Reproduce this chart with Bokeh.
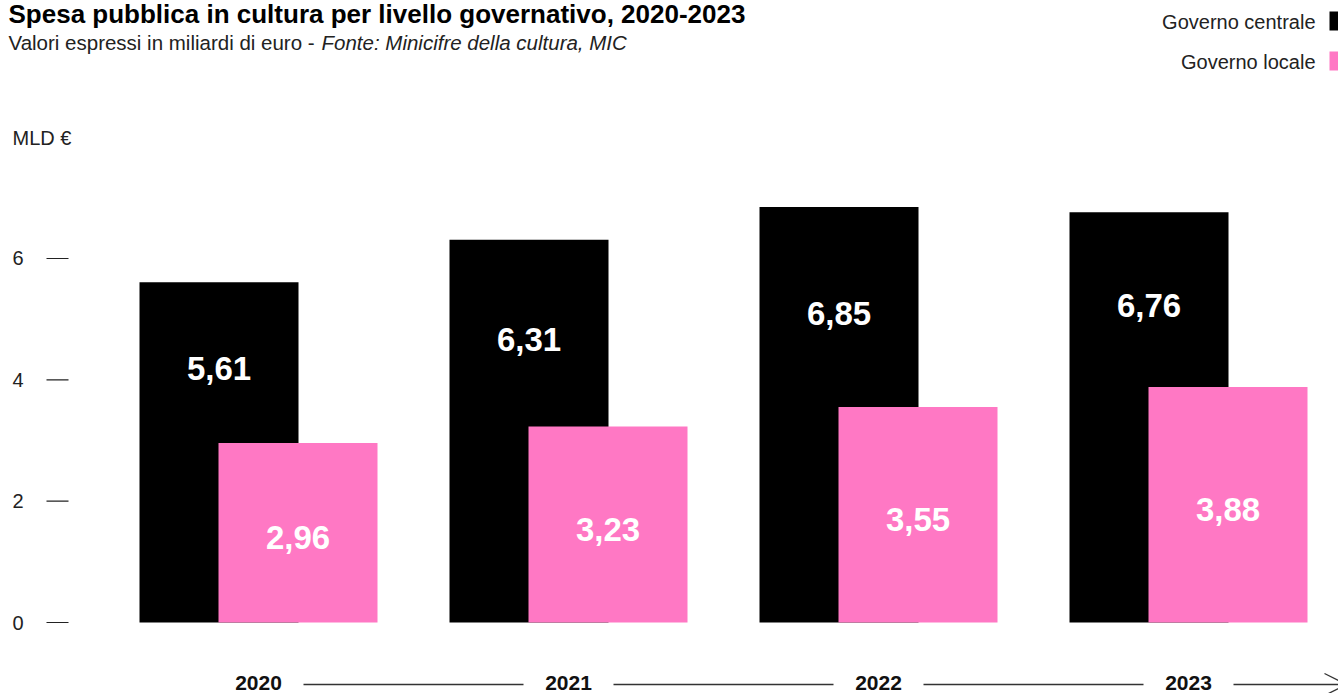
from bokeh.plotting import figure
from bokeh.models import ColumnDataSource, BoxAnnotation, Arrow, OpenHead, Range1d
from bokeh.core.properties import value
from bokeh.embed import file_html
from bokeh.resources import INLINE

# ---- data ----
years = ["2020", "2021", "2022", "2023"]
centrale = [5.61, 6.31, 6.85, 6.76]
locale = [2.96, 3.23, 3.55, 3.88]
centrale_labels = ["5,61", "6,31", "6,85", "6,76"]
locale_labels = ["2,96", "3,23", "3,55", "3,88"]
y_ticks = [0, 2, 4, 6]
y_tick_labels = ["0", "2", "4", "6"]

BLACK = "#000000"
PINK = "#FF78C4"
FONT = "Liberation Sans"

W, H = 1338, 693
# layout helpers (pixel -> data)
PX_PER_UNIT = 60.67
ZERO_PY = 622
GROUP0_PX = 258
GROUP_STEP = 310.0


def px2x(px):
    return (px - GROUP0_PX) / GROUP_STEP


def py2y(py):
    return (ZERO_PY - py) / PX_PER_UNIT


idx = list(range(len(years)))
off = 39.5 / GROUP_STEP
bw = 159 / GROUP_STEP

src = ColumnDataSource(dict(
    xc=[i - off for i in idx],
    xl=[i + off for i in idx],
    xi=idx,
    centrale=centrale,
    locale=locale,
    c_lab=centrale_labels,
    l_lab=locale_labels,
    c_y=[(c + l) / 2 - 0.1 for c, l in zip(centrale, locale)],
    l_y=[l / 2 - 0.075 for l in locale],
    years=years,
    year_y=[py2y(682)] * len(years),
))

p = figure(width=W, height=H, output_backend="svg", toolbar_location=None,
           x_range=Range1d(px2x(0), px2x(W)),
           y_range=Range1d(py2y(H), py2y(0)),
           x_axis_location=None, y_axis_location=None,
           min_border_left=0, min_border_right=0, min_border_top=0, min_border_bottom=0,
           background_fill_color="white", border_fill_color="white")
p.outline_line_color = None
p.grid.visible = False

# y axis: ticks and labels from the tick arrays
p.segment(x0=[px2x(46)] * len(y_ticks), x1=[px2x(68)] * len(y_ticks), y0=y_ticks, y1=y_ticks,
          line_color="#222222", line_width=1.2)
p.text(x=[px2x(23)] * len(y_ticks), y=y_ticks, text=y_tick_labels, text_font=value(FONT),
       text_font_size="20px", text_color="#222222", text_align="right", text_baseline="middle")

# bars
p.vbar(x="xc", top="centrale", bottom=0, width=bw, source=src, fill_color=BLACK, line_color=None)
p.vbar(x="xl", top="locale", bottom=0, width=bw, source=src, fill_color=PINK, line_color=None)

# bar value labels
p.text(x="xc", y="c_y", text="c_lab", source=src, text_color="white", text_font=value(FONT),
       text_font_style="bold", text_font_size="33px", text_align="center", text_baseline="middle")
p.text(x="xl", y="l_y", text="l_lab", source=src, text_color="white", text_font=value(FONT),
       text_font_style="bold", text_font_size="33px", text_align="center", text_baseline="middle")

# x axis (year labels with connecting line)
p.text(x="xi", y="year_y", text="years", source=src, text_color="#111111", text_font=value(FONT),
       text_font_style="bold", text_font_size="21px", text_align="center", text_baseline="middle")
gap = 45 / GROUP_STEP
p.segment(x0=[i + gap for i in idx[:-1]], y0=[py2y(684)] * (len(idx) - 1),
          x1=[i + 1 - gap for i in idx[:-1]], y1=[py2y(684)] * (len(idx) - 1),
          line_color="#333333", line_width=1.3)
p.add_layout(Arrow(x_start=idx[-1] + gap, y_start=py2y(684), x_end=px2x(1346), y_end=py2y(684),
                   line_color="#333333", line_width=1.3,
                   end=OpenHead(size=22, line_color="#333333", line_width=1.3)))


def txt(px, py, s, size, style="normal", color="#222222", align="left"):
    # py is the vertical centre of the text line
    p.text(x=[px2x(px)], y=[py2y(py)], text=[s], text_font=value(FONT), text_font_size=size,
           text_font_style=style, text_color=color, text_align=align, text_baseline="middle")


# title & subtitle
txt(8, 13.5, "Spesa pubblica in cultura per livello governativo, 2020-2023", "26px", "bold", "#000000")
txt(8, 41.5, "Valori espressi in miliardi di euro - ", "20.5px")
txt(321, 41.5, "Fonte: Minicifre della cultura, MIC", "20.5px", "italic")

# unit label
txt(12, 137, "MLD €", "20px")

# legend
txt(1315, 21.3, "Governo centrale", "20px", align="right")
txt(1315, 61.3, "Governo locale", "20px", align="right")
p.add_layout(BoxAnnotation(left=px2x(1329), right=px2x(1350), top=py2y(11), bottom=py2y(30),
                           fill_color=BLACK, fill_alpha=1, line_color=None))
p.add_layout(BoxAnnotation(left=px2x(1329), right=px2x(1350), top=py2y(51), bottom=py2y(70),
                           fill_color=PINK, fill_alpha=1, line_color=None))

open("out.html", "w").write(file_html(p, INLINE))
